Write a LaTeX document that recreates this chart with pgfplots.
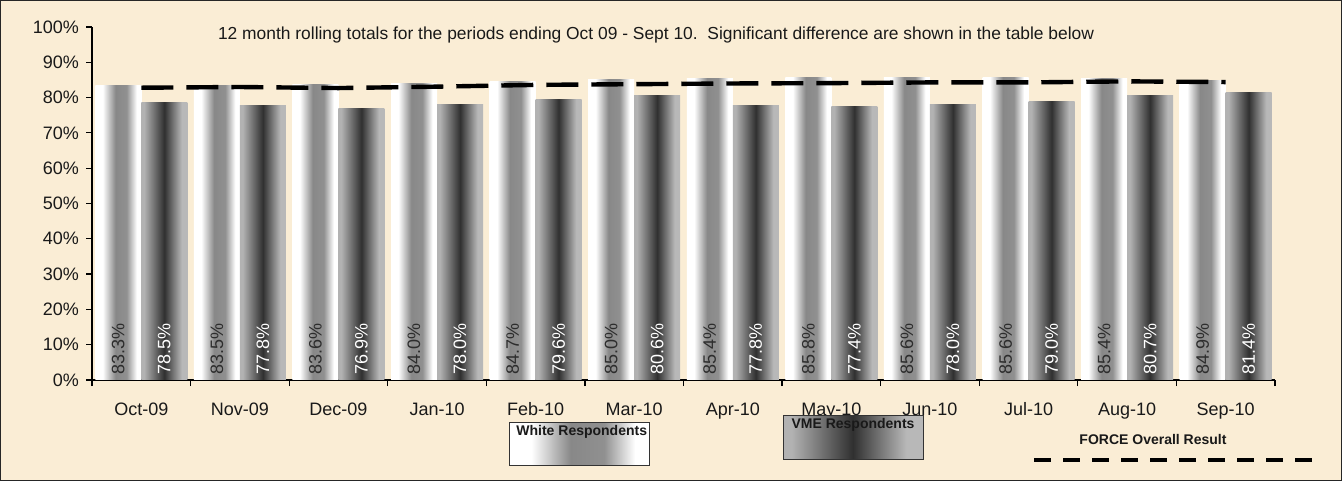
\documentclass[border=0pt]{standalone}
\usepackage{pgfplots}
\usepackage{pgfplotstable}
\pgfplotsset{compat=1.18}
\usepackage{fontspec}
\setmainfont{Liberation Sans}
\definecolor{bgout}{RGB}{250,237,213}
\definecolor{wb0}{RGB}{255,255,255}
\definecolor{wb1}{RGB}{136,136,136}
\definecolor{wb2}{RGB}{144,144,144}
\definecolor{vb0}{RGB}{178,178,178}
\definecolor{vb1}{RGB}{48,48,48}
\definecolor{vb2}{RGB}{184,184,184}
\definecolor{lblw}{RGB}{45,45,45}
\pgfdeclarehorizontalshading{whitebar}{100bp}{color(0bp)=(wb0); color(33bp)=(wb0); color(47bp)=(wb1); color(59bp)=(wb2); color(70bp)=(wb0); color(100bp)=(wb0)}
\pgfdeclarehorizontalshading{vmebar}{100bp}{color(0bp)=(vb0); color(28bp)=(vb0); color(50bp)=(vb1); color(69bp)=(vb2); color(100bp)=(vb2)}
\pgfplotstableread{
x white vme force z
0 83.3 78.5 82.8 0
1 83.5 77.8 83.0 0
2 83.6 76.9 82.7 0
3 84.0 78.0 83.1 0
4 84.7 79.6 83.6 0
5 85.0 80.6 83.8 0
6 85.4 77.8 84.0 0
7 85.8 77.4 84.1 0
8 85.6 78.0 84.3 0
9 85.6 79.0 84.3 0
10 85.4 80.7 84.6 0
11 84.9 81.4 84.4 0
}\data
\begin{document}
\begin{tikzpicture}
\fill[bgout] (-46pt,-50.5pt) rectangle (625pt,190pt);
\draw[black!85, line width=0.5pt] (-45.75pt,-50.25pt) rectangle (624.75pt,189.75pt);
\begin{axis}[
  at={(0,0)}, anchor=south west,
  scale only axis, width=591.5pt, height=176.5pt,
  xmin=-0.5, xmax=11.5, ymin=0, ymax=100,
  axis x line=bottom, axis y line=left,
  axis line style={-, black, line width=0.6pt},
  tick align=outside, major tick length=3pt,
  tick style={black, line width=0.6pt},
  xtick={-0.5,0.5,...,11.5}, xticklabels={},
  extra x ticks={0,1,...,11},
  extra x tick labels={Oct-09,Nov-09,Dec-09,Jan-10,Feb-10,Mar-10,Apr-10,May-10,Jun-10,Jul-10,Aug-10,Sep-10},
  extra x tick style={major tick length=0pt},
  xticklabel style={yshift=-7pt},
  typeset ticklabels with strut,
  ytick={0,10,...,100},
  yticklabel={\pgfmathprintnumber{\tick}\%},
  /pgf/number format/assume math mode=true,
  tick label style={font=\fontsize{9}{10}\selectfont, text=black!90},
  clip=false,
]
\pgfplotsinvokeforeach{0,...,11}{
\addplot[ybar, bar width=23pt, bar shift=-11.5pt, draw=none, shade, shading=whitebar, restrict x to domain=#1:#1] table[x=x, y=white] {\data};
\addplot[ybar, bar width=23pt, bar shift=11.5pt, draw=none, shade, shading=vmebar, restrict x to domain=#1:#1] table[x=x, y=vme] {\data};
}
\addplot[ybar, bar width=23pt, bar shift=-11.5pt, draw=none, fill=none, point meta=explicit symbolic,
  nodes near coords={\pgfplotspointmeta\%},
  nodes near coords style={xshift=-11.5pt, rotate=90, anchor=west, font=\fontsize{9}{10}\selectfont, text=lblw, inner sep=2.5pt}] table[x=x, y=z, meta=white] {\data};
\addplot[ybar, bar width=23pt, bar shift=11.5pt, draw=none, fill=none, point meta=explicit symbolic,
  nodes near coords={\pgfplotspointmeta\%},
  nodes near coords style={xshift=11.5pt, rotate=90, anchor=west, font=\fontsize{9}{10}\selectfont, text=white, inner sep=2.5pt}] table[x=x, y=z, meta=vme] {\data};
\addplot[black, line width=2.2pt, dash pattern=on 16pt off 6.5pt, mark=none] table[x=x, y=force] {\data};
\node[font=\fontsize{8.7}{10}\selectfont, text=black!90] at (rel axis cs:0.4768,0.977) {12 month rolling totals for the periods ending Oct 09 - Sept 10.\ \ Significant difference are shown in the table below};
\end{axis}
\shadedraw[shading=whitebar, draw=black!80, line width=0.5pt] (208.5pt,-21pt) rectangle (278.5pt,-42.5pt);
\shadedraw[shading=vmebar, draw=black!80, line width=0.5pt] (345.5pt,-17.5pt) rectangle (415.5pt,-39.5pt);
\node[anchor=west, font=\bfseries\fontsize{7}{8}\selectfont, inner sep=0pt, text=black!90] at (212pt,-26pt) {White Respondents};
\node[font=\bfseries\fontsize{7}{8}\selectfont, inner sep=0pt, text=black!90] at (380.5pt,-22.5pt) {VME Respondents};
\node[font=\bfseries\fontsize{7}{8}\selectfont, inner sep=0pt, text=black!90] at (530.5pt,-29.5pt) {FORCE Overall Result};
\draw[black, line width=2.2pt, dash pattern=on 8.5pt off 6pt] (471pt,-40pt) -- (611.5pt,-40pt);
\end{tikzpicture}
\end{document}
